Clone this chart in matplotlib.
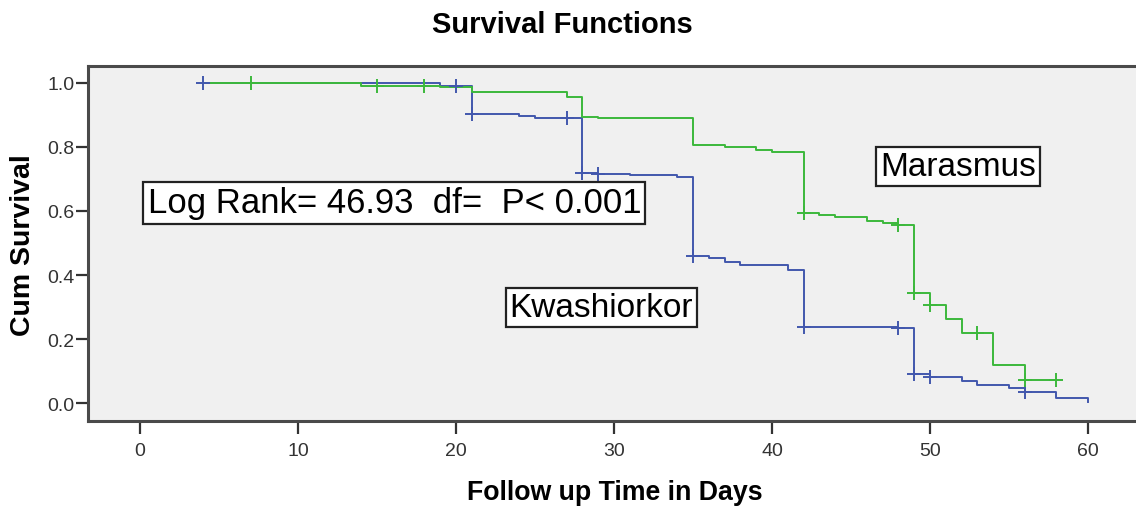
import matplotlib
matplotlib.use("Agg")
import matplotlib.pyplot as plt

plt.rcParams['font.family'] = ['Liberation Sans', 'DejaVu Sans']

# Marasmus (green) step curve
mar_times = [4, 14, 19, 21, 27, 28, 29, 35, 37, 39, 40, 42, 43, 44, 46, 47, 48, 49, 50, 51, 52, 54, 56, 58]
mar_surv = [1.0, 0.992, 0.988, 0.971, 0.957, 0.895, 0.89, 0.806, 0.80, 0.79, 0.783, 0.594, 0.589,
            0.582, 0.57, 0.561, 0.555, 0.343, 0.306, 0.262, 0.219, 0.12, 0.071, 0.071]
mar_cens_t = [7, 15, 18, 42, 48, 49, 50, 53, 56, 58]
mar_cens_s = [1.0, 0.992, 0.992, 0.594, 0.555, 0.343, 0.306, 0.219, 0.071, 0.071]

# Kwashiorkor (blue) step curve
kwa_times = [4, 19, 21, 24, 25, 28, 29, 31, 34, 35, 36, 37, 38, 41, 42, 48, 49, 50, 52, 53, 55, 56, 58, 60]
kwa_surv = [1.0, 0.99, 0.903, 0.898, 0.89, 0.72, 0.715, 0.712, 0.706, 0.46, 0.453, 0.44, 0.43, 0.417,
            0.239, 0.234, 0.09, 0.08, 0.07, 0.057, 0.046, 0.033, 0.015, 0.003]
kwa_cens_t = [4, 20, 21, 27, 28, 29, 35, 42, 48, 49, 50, 56]
kwa_cens_s = [1.0, 0.99, 0.903, 0.89, 0.72, 0.715, 0.46, 0.239, 0.234, 0.09, 0.08, 0.033]

x_ticks = [0, 10, 20, 30, 40, 50, 60]
y_ticks = [0.0, 0.2, 0.4, 0.6, 0.8, 1.0]

green = '#3cb83c'
blue = '#4257ad'

fig = plt.figure(figsize=(11.36, 5.10), dpi=100)
ax = fig.add_axes([0.0775, 0.1725, 0.9225, 0.6961])
ax.set_facecolor('#f0f0f0')

ax.step(kwa_times, kwa_surv, where='post', color=blue, lw=1.4)
ax.step(mar_times, mar_surv, where='post', color=green, lw=1.4)
ax.plot(kwa_cens_t, kwa_cens_s, '+', color=blue, ms=10, mew=1.4)
ax.plot(mar_cens_t, mar_cens_s, '+', color=green, ms=10, mew=1.4)

ax.set_xlim(-3.29, 63.04)
ax.set_ylim(-0.05625, 1.053)
ax.set_xticks(x_ticks)
ax.set_yticks(y_ticks)
ax.set_yticklabels(['%.1f' % v for v in y_ticks])
ax.tick_params(axis='both', direction='out', length=9, width=1.6, color='#333333',
               labelsize=14, labelcolor='#333333')
ax.tick_params(axis='x', pad=6)
ax.tick_params(axis='y', pad=1)
ax.spines['right'].set_visible(False)
for s in ['left', 'bottom', 'top']:
    ax.spines[s].set_color('#4a4a4a')
    ax.spines[s].set_linewidth(2.2)

box = dict(boxstyle='square,pad=0.12', facecolor='white', edgecolor='#222222', linewidth=1.6)
ax.text(16.1, 0.625, 'Log Rank= 46.93  df=  P< 0.001', fontsize=25, ha='center', va='center', bbox=box)
ax.text(51.8, 0.7375, 'Marasmus', fontsize=24, ha='center', va='center', bbox=box)
ax.text(29.2, 0.30, 'Kwashiorkor', fontsize=24, ha='center', va='center', bbox=box)

fig.text(0.495, 0.951, 'Survival Functions', fontsize=21, fontweight='bold', ha='center', va='center')
fig.text(0.541, 0.033, 'Follow up Time in Days', fontsize=19.3, fontweight='bold', ha='center', va='center')
fig.text(0.020, 0.52, 'Cum Survival', fontsize=20.5, fontweight='bold', ha='center', va='center',
         rotation=90)

fig.savefig('out.png', dpi=100)
